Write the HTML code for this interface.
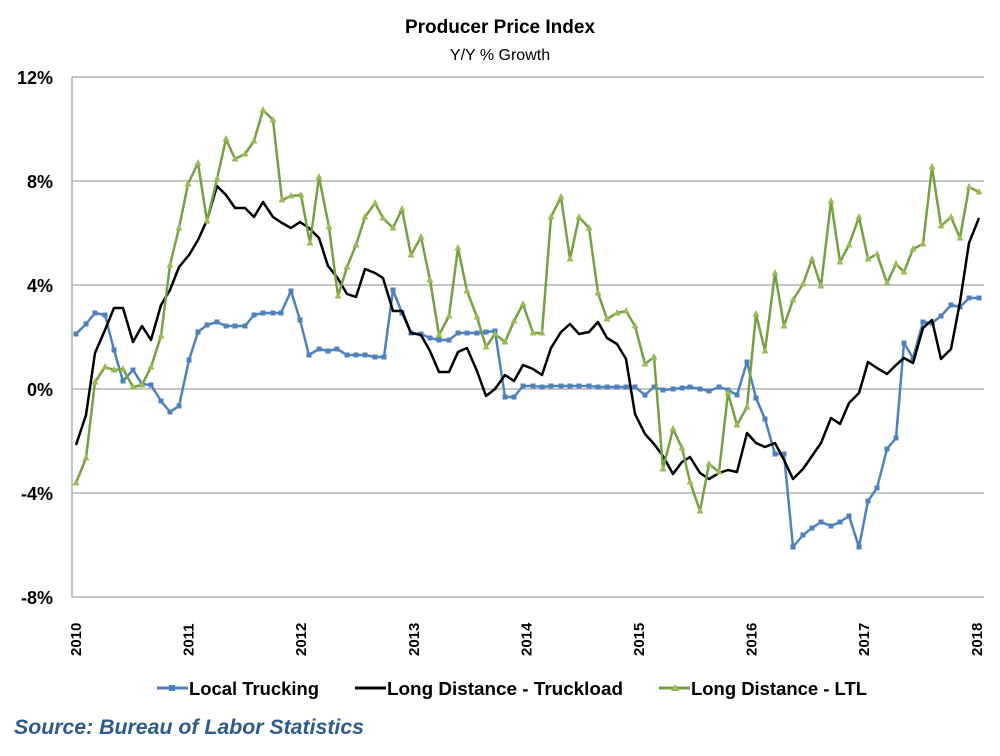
<!DOCTYPE html>
<html><head><meta charset="utf-8"><style>
body{margin:0;background:#fff;}
svg{display:block;font-family:"Liberation Sans",sans-serif;}
</style></head><body>
<svg id="c" width="1000" height="756" viewBox="0 0 1000 756" xmlns="http://www.w3.org/2000/svg">
<rect width="1000" height="756" fill="#fff"/>
<text x="500" y="33" text-anchor="middle" font-size="19" font-weight="bold">Producer Price Index</text>
<text x="500" y="60" text-anchor="middle" font-size="16">Y/Y % Growth</text>
<g stroke="#b3b3b3" stroke-width="1.5">
<line x1="72" y1="77" x2="984" y2="77"/><line x1="72" y1="181" x2="984" y2="181"/>
<line x1="72" y1="285" x2="984" y2="285"/><line x1="72" y1="389" x2="984" y2="389"/>
<line x1="72" y1="493" x2="984" y2="493"/><line x1="72" y1="597" x2="984" y2="597"/>
<line x1="72" y1="77" x2="72" y2="597"/>
</g>
<g font-size="18" font-weight="bold" text-anchor="end">
<text x="53" y="84">12%</text><text x="53" y="188">8%</text><text x="53" y="292">4%</text>
<text x="53" y="396">0%</text><text x="53" y="500">-4%</text><text x="53" y="604">-8%</text>
</g>
<g id="xl" font-size="15" font-weight="bold"></g>
<g id="series"></g>
<g font-size="18" font-weight="bold" font-family="'Liberation Sans Narrow','Liberation Sans',sans-serif">
<line x1="157" y1="688" x2="188" y2="688" stroke="#4f81bd" stroke-width="3"/><rect x="169" y="685" width="6" height="6" fill="#4f81bd"/>
<text x="189" y="695" textLength="130" lengthAdjust="spacingAndGlyphs">Local Trucking</text>
<line x1="355" y1="688" x2="386" y2="688" stroke="#000" stroke-width="3"/>
<text x="387" y="695" textLength="236" lengthAdjust="spacingAndGlyphs">Long Distance - Truckload</text>
<line x1="659" y1="688" x2="690" y2="688" stroke="#77a043" stroke-width="3"/><polygon points="675,684 679,691 671,691" fill="#9bbb59"/>
<text x="691" y="695" textLength="176" lengthAdjust="spacingAndGlyphs">Long Distance - LTL</text>
</g>
<text x="14" y="734" font-size="21" font-weight="bold" font-style="italic" fill="#2e5a8f" textLength="350" lengthAdjust="spacingAndGlyphs" font-family="'Liberation Sans Narrow','Liberation Sans',sans-serif">Source: Bureau of Labor Statistics</text>
</svg>
<script>
var NS="http://www.w3.org/2000/svg";
var xl=document.getElementById('xl');
for(var i=0;i<=8;i++){var x=76+i*112.6;var t=document.createElementNS(NS,'text');t.setAttribute('transform','translate('+(x+5)+',656) rotate(-90)');t.textContent=2010+i;xl.appendChild(t);}
var blue=[[76,334],[86,324],[95,313],[105,315],[114,350],[123,381],[133,370],[142,384],[151,385],[161,401],[170,412],[179,406],[189,360],[198,332],[207,325],[217,322],[226,326],[235,326],[245,326],[254,315],[263,313],[273,313],[281,313],[291,291],[300,320],[309,355],[319,349],[328,351],[337,349],[347,355],[356,355],[365,355],[375,357],[384,357],[393,290],[402,313],[411,333],[421,334],[430,338],[439,340],[449,340],[458,333],[467,333],[477,333],[486,332],[495,331],[505,397],[514,397],[523,386],[533,386],[542,387],[551,386],[561,386],[570,386],[579,386],[589,386],[598,387],[607,387],[617,387],[626,387],[635,387],[645,395],[654,387],[663,390],[673,389],[682,388],[690,387],[700,389],[709,391],[719,387],[728,390],[737,395],[747,362],[756,398],[765,419],[775,454],[784,454],[793,547],[803,535],[812,528],[821,522],[831,526],[840,522],[849,516],[859,547],[868,501],[877,488],[887,449],[896,438],[904,343],[913,358],[923,322],[932,323],[941,316],[951,305],[960,307],[969,298],[979,298]];
var black=[[76,445],[86,415],[95,353],[105,330],[114,308],[123,308],[133,342],[142,326],[151,340],[161,305],[170,290],[179,267],[189,255],[198,240],[207,220],[217,186],[226,195],[235,208],[245,208],[254,217],[263,202],[273,217],[282,223],[291,228],[300,222],[309,228],[319,238],[328,266],[337,277],[347,294],[356,297],[365,269],[375,273],[383,278],[393,311],[402,311],[411,333],[421,335],[430,351],[439,372],[449,372],[458,352],[467,348],[477,371],[486,396],[495,389],[505,375],[514,381],[523,365],[533,369],[542,375],[551,348],[561,332],[570,324],[579,334],[589,332],[598,322],[607,338],[617,344],[626,359],[635,414],[645,434],[654,444],[663,456],[673,474],[682,462],[690,457],[700,473],[709,479],[719,473],[728,470],[737,472],[747,433],[756,443],[765,447],[775,443],[784,460],[793,479],[803,469],[812,456],[821,443],[831,418],[840,424],[849,403],[859,393],[868,362],[877,368],[887,374],[896,365],[904,358],[913,363],[923,328],[932,320],[941,359],[951,349],[960,302],[969,243],[979,218]];
var green=[[76,483],[86,458],[95,382],[105,367],[114,370],[123,369],[133,387],[142,385],[151,367],[161,336],[170,265],[179,228],[188,184],[198,163],[207,221],[217,179],[226,139],[235,159],[245,154],[254,141],[263,110],[273,120],[282,200],[291,196],[301,195],[310,243],[319,177],[329,227],[338,296],[347,267],[356,245],[365,217],[375,203],[383,218],[393,228],[402,209],[411,255],[421,237],[430,280],[439,335],[449,316],[458,248],[467,291],[477,317],[486,347],[495,334],[505,342],[514,321],[523,304],[533,333],[542,333],[551,217],[561,197],[570,259],[579,217],[589,228],[598,293],[607,319],[617,313],[626,311],[635,326],[645,364],[654,357],[663,469],[673,429],[682,448],[690,482],[700,511],[709,464],[719,472],[728,393],[737,425],[747,407],[756,314],[765,351],[775,273],[784,326],[793,300],[803,284],[812,259],[821,286],[831,201],[840,262],[849,245],[859,217],[868,259],[877,254],[887,283],[896,264],[904,272],[913,249],[923,244],[932,167],[941,226],[951,217],[960,238],[969,187],[979,192]];
var g=document.getElementById('series');
function line(p,c,w){var e=document.createElementNS(NS,'polyline');e.setAttribute('points',p.map(function(a){return a.join(',')}).join(' '));e.setAttribute('fill','none');e.setAttribute('stroke',c);e.setAttribute('stroke-width',w);e.setAttribute('stroke-linejoin','round');g.appendChild(e);}
line(blue,'#4f81bd',2.5);
blue.forEach(function(a){var r=document.createElementNS(NS,'rect');r.setAttribute('x',a[0]-2.5);r.setAttribute('y',a[1]-2.5);r.setAttribute('width',5);r.setAttribute('height',5);r.setAttribute('fill','#4f81bd');g.appendChild(r);});
line(black,'#000',2.5);
line(green,'#77a043',2.5);
green.forEach(function(a){var r=document.createElementNS(NS,'polygon');r.setAttribute('points',a[0]+','+(a[1]-4)+' '+(a[0]+3.5)+','+(a[1]+2.5)+' '+(a[0]-3.5)+','+(a[1]+2.5));r.setAttribute('fill','#9bbb59');g.appendChild(r);});
</script>
</body></html>
